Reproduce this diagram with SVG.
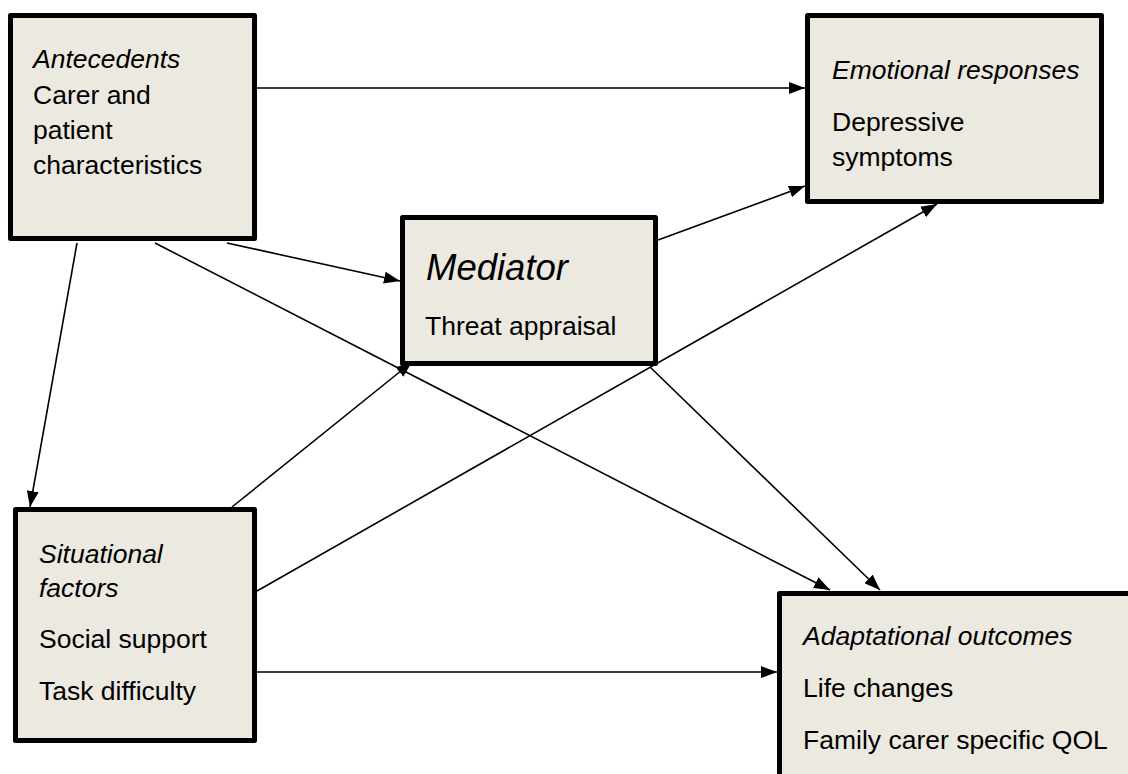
<svg xmlns="http://www.w3.org/2000/svg" width="1128" height="774" viewBox="0 0 1128 774">
<style>
.box{fill:#ECE9E0;stroke:#000;stroke-width:5;stroke-linejoin:round}
.t{font-family:"Liberation Sans",Arial,sans-serif;font-size:26.5px;fill:#000}
.i{font-style:italic}
.big{font-size:36.5px}
.c{stroke:#000;stroke-width:1.6;fill:none;marker-end:url(#ah)}
</style>
<defs>
<marker id="ah" viewBox="0 0 16 12" refX="16" refY="6" markerWidth="16" markerHeight="12" markerUnits="userSpaceOnUse" orient="auto">
<path d="M0,0 L16,6 L0,12 z" fill="#000"/>
</marker>
</defs>
<rect x="0" y="0" width="1128" height="774" fill="#fff"/>
<g id="connectors">
<line class="c" x1="257" y1="88" x2="805" y2="88"/>
<line class="c" x1="227" y1="243" x2="400" y2="281"/>
<line class="c" x1="77" y1="243" x2="30" y2="507"/>
<line class="c" x1="155" y1="243" x2="830" y2="590"/>
<line class="c" x1="658" y1="240" x2="805" y2="186"/>
<line class="c" x1="650" y1="367" x2="880" y2="590"/>
<line class="c" x1="232" y1="507" x2="412" y2="362"/>
<line class="c" x1="257" y1="591" x2="937" y2="204"/>
<line class="c" x1="257" y1="672" x2="777" y2="672"/>
</g>
<g id="antecedents">
<rect class="box" x="10.5" y="15.5" width="244" height="223"/>
<text class="t i" x="33" y="68">Antecedents</text>
<text class="t" x="33" y="104">Carer and</text>
<text class="t" x="33" y="139">patient</text>
<text class="t" x="33" y="174">characteristics</text>
</g>
<g id="emotional">
<rect class="box" x="807.5" y="15.5" width="294" height="186"/>
<text class="t i" x="832" y="79">Emotional responses</text>
<text class="t" x="832" y="131">Depressive</text>
<text class="t" x="832" y="166">symptoms</text>
</g>
<g id="mediator">
<rect class="box" x="402.5" y="217.5" width="253" height="146"/>
<text class="t i big" x="426" y="280">Mediator</text>
<text class="t" x="425" y="335">Threat appraisal</text>
</g>
<g id="situational">
<rect class="box" x="15.5" y="509.5" width="239" height="231"/>
<text class="t i" x="39" y="563">Situational</text>
<text class="t i" x="39" y="597">factors</text>
<text class="t" x="39" y="648">Social support</text>
<text class="t" x="39" y="700">Task difficulty</text>
</g>
<g id="adaptational">
<rect class="box" x="779.5" y="593.5" width="400" height="300"/>
<text class="t i" x="803" y="645">Adaptational outcomes</text>
<text class="t" x="803" y="697">Life changes</text>
<text class="t" x="803" y="749">Family carer specific QOL</text>
</g>
</svg>
